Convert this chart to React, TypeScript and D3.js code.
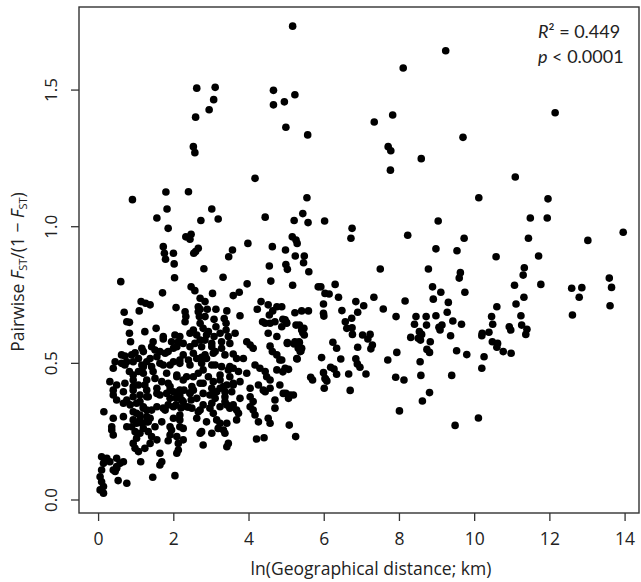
import React from 'react';
import * as d3 from 'd3';

// ln(geographical distance; km), pairwise Fst/(1 - Fst)
const upperPoints: [number, number][] = [
  [5.16,1.734],[2.61,1.507],[3.10,1.510],[3.06,1.465],[2.94,1.428],[2.58,1.401],[4.65,1.499],[5.22,1.483],
  [4.94,1.457],[4.65,1.446],[4.98,1.364],[5.56,1.336],[2.52,1.293],[2.56,1.271],[4.16,1.177],[0.90,1.099],
  [1.79,1.127],[2.39,1.128],[5.54,1.106],[1.82,1.065],[3.01,1.065],[1.55,1.032],[2.72,1.023],[3.18,1.028],
  [4.43,1.035],[5.43,1.048],[5.20,1.023],[5.57,1.015],[1.85,0.994],[2.32,0.963],[2.46,0.972],[2.43,0.954],
  [3.97,0.939],[5.15,0.963],[5.25,0.951],[5.28,0.939],[1.72,0.927],[1.75,0.903],[1.99,0.903],[1.78,0.881],
  [2.01,0.864],[2.58,0.909],[2.65,0.921],[2.53,0.903],[3.56,0.915],[3.46,0.890],[4.62,0.927],[4.97,0.915],
  [5.23,0.893],[5.47,0.893],[5.45,0.868],[4.98,0.862],[5.02,0.844],[4.54,0.856],[2.80,0.846],[5.59,0.835],
  [2.02,0.813],[3.31,0.815],[0.59,0.799],[3.95,0.791],[4.58,0.801],[5.16,0.786],[2.46,0.780],[5.84,0.780],
];

const farUpperPoints: [number, number][] = [
  [9.23,1.644],[8.10,1.581],[12.14,1.417],[7.82,1.409],[7.33,1.383],[9.69,1.327],[7.70,1.293],[7.77,1.278],
  [8.58,1.249],[7.76,1.207],[11.08,1.182],[10.11,1.106],[11.95,1.102],[6.01,1.021],[6.74,0.994],[6.71,0.958],
  [9.03,1.021],[8.22,0.969],[11.48,1.032],[11.93,1.032],[9.72,0.958],[11.43,0.958],[13.95,0.980],[13.01,0.950],
  [8.97,0.919],[9.53,0.912],[10.57,0.890],[11.70,0.893],[7.49,0.845],[8.77,0.845],[11.32,0.850],[9.62,0.832],
  [11.29,0.823],[9.59,0.812],[13.58,0.812],[6.29,0.789],[8.88,0.780],[11.06,0.786],[11.76,0.789],[12.58,0.775],
  [12.85,0.777],[13.64,0.778],[5.91,0.780],
];

const farPoints: [number, number][] = [
  [6.38,0.742],[6.84,0.726],[7.05,0.711],[7.32,0.742],[7.57,0.699],[8.15,0.728],[5.98,0.717],[5.98,0.683],
  [6.47,0.693],[6.89,0.687],[6.56,0.652],[6.73,0.665],[6.60,0.628],[6.74,0.630],[6.75,0.606],[7.02,0.604],
  [7.22,0.606],[7.16,0.589],[7.28,0.567],[7.24,0.553],[6.89,0.559],[6.23,0.577],[6.33,0.555],[5.93,0.521],
  [6.44,0.516],[6.84,0.517],[6.88,0.498],[6.95,0.486],[6.17,0.486],[6.26,0.479],[6.33,0.460],[5.98,0.466],
  [6.04,0.442],[6.65,0.461],[7.11,0.461],[6.00,0.409],[6.69,0.401],[7.91,0.671],[7.93,0.540],[7.69,0.512],
  [7.90,0.449],[8.12,0.439],[8.00,0.326],[8.44,0.671],[8.40,0.643],[8.71,0.671],[8.97,0.674],[8.90,0.735],
  [9.10,0.760],[9.30,0.723],[9.27,0.687],[8.72,0.640],[8.53,0.616],[8.59,0.606],[8.30,0.595],[8.50,0.592],
  [8.56,0.585],[9.05,0.632],[9.13,0.640],[9.08,0.622],[9.42,0.655],[9.65,0.643],[9.36,0.601],[8.82,0.579],
  [8.73,0.551],[8.80,0.540],[8.55,0.506],[8.57,0.456],[8.80,0.393],[8.61,0.362],[9.39,0.456],[9.52,0.546],
  [9.79,0.532],[9.48,0.273],[10.10,0.300],[9.74,0.760],[10.59,0.707],[10.45,0.671],[10.48,0.643],[10.20,0.610],
  [10.19,0.601],[10.38,0.614],[10.47,0.579],[10.61,0.573],[10.59,0.559],[10.76,0.543],[10.97,0.537],[10.25,0.524],
  [10.19,0.482],[11.10,0.717],[11.31,0.742],[11.23,0.674],[11.25,0.640],[11.39,0.625],[11.36,0.606],[10.92,0.634],
  [10.96,0.622],[12.60,0.677],[12.78,0.742],[13.60,0.711],
];

const midPoints: [number, number][] = [
  [6.02,0.756],[6.13,0.754],[5.99,0.673],[4.87,0.707],[5.22,0.685],[5.40,0.692],[5.58,0.692],[4.96,0.659],
  [5.00,0.649],[5.25,0.640],[5.46,0.628],[5.43,0.612],[5.02,0.576],[5.22,0.579],[5.34,0.576],[5.40,0.555],
  [5.38,0.545],[4.87,0.512],[5.28,0.516],[5.05,0.478],[4.90,0.469],[5.64,0.449],[5.69,0.439],[6.02,0.445],
  [6.07,0.435],[4.98,0.390],[5.18,0.384],
  [3.03,0.756],[3.58,0.748],[3.74,0.760],[2.70,0.698],[2.89,0.698],[3.12,0.698],[3.41,0.692],[3.76,0.674],
  [4.32,0.726],[4.22,0.698],[4.51,0.714],[4.63,0.692],[2.83,0.671],[3.07,0.661],[3.34,0.664],[3.39,0.647],
  [4.36,0.652],[4.54,0.677],[4.56,0.647],[4.69,0.652],[4.90,0.661],[5.00,0.647],[5.34,0.640],[5.40,0.622],
  [2.70,0.647],[2.78,0.628],[2.92,0.616],[3.12,0.634],[3.07,0.598],[3.23,0.610],[3.39,0.622],[3.45,0.598],
  [4.51,0.610],[4.74,0.598],[5.47,0.604],[2.83,0.585],[3.01,0.561],[2.74,0.561],[3.94,0.579],[4.03,0.567],
  [4.11,0.555],[4.56,0.563],[4.62,0.543],[5.02,0.573],[5.20,0.571],[5.33,0.579],[5.31,0.555],[5.36,0.543],
  [3.27,0.555],[3.36,0.531],[3.58,0.534],[3.67,0.518],[3.85,0.518],[3.05,0.537],[2.87,0.518],[2.74,0.522],
  [4.74,0.531],[4.82,0.512],[5.27,0.518],[3.10,0.494],[3.27,0.488],[3.45,0.476],[3.58,0.482],[3.72,0.470],
  [3.94,0.464],[4.16,0.494],[4.29,0.482],[4.43,0.470],[4.47,0.451],[4.56,0.439],[4.74,0.476],[4.96,0.482],
  [2.78,0.476],[2.92,0.451],[3.05,0.433],[2.78,0.427],[3.23,0.439],[3.41,0.421],[3.58,0.427],[3.76,0.433],
  [4.03,0.409],[4.25,0.421],[4.38,0.402],[4.56,0.409],[4.82,0.421],[3.23,0.409],[3.05,0.396],[3.54,0.396],
  [2.70,0.738],[2.83,0.726],[4.74,0.707],[4.43,0.647],[4.87,0.634],
];

const nearPoints: [number, number][] = [
  [1.70,0.758],[2.56,0.766],[1.13,0.726],[1.25,0.720],[1.37,0.714],[0.68,0.687],[1.08,0.692],[2.06,0.704],
  [2.30,0.689],[2.32,0.671],[2.30,0.652],[2.65,0.707],[2.65,0.689],[2.68,0.671],[0.82,0.650],[1.53,0.628],
  [0.82,0.610],[0.85,0.579],[1.72,0.589],[2.16,0.598],[2.12,0.579],[2.08,0.561],[2.52,0.622],[2.61,0.604],
  [2.70,0.585],[2.56,0.573],[2.43,0.561],[1.15,0.555],[1.41,0.561],[1.63,0.543],[1.85,0.543],[1.99,0.555],
  [0.61,0.531],[0.88,0.531],[1.06,0.518],[1.37,0.518],[1.55,0.524],[0.44,0.506],[0.39,0.482],[0.70,0.494],
  [0.92,0.506],[1.15,0.494],[1.41,0.488],[1.72,0.494],[1.99,0.506],[2.16,0.512],[2.39,0.512],[2.61,0.518],
  [0.30,0.433],[0.48,0.421],[0.70,0.427],[0.92,0.439],[1.06,0.421],[1.28,0.439],[1.50,0.445],[1.68,0.433],
  [1.85,0.427],[2.08,0.451],[2.25,0.439],[2.52,0.451],[2.70,0.427],[0.39,0.402],[0.66,0.396],[0.92,0.402],
  [1.28,0.402],[1.55,0.409],[1.90,0.402],[2.16,0.402],[2.52,0.402],[0.75,0.652],
  [0.70,0.527],[0.61,0.500],[0.75,0.506],[0.97,0.539],[0.82,0.470],[0.92,0.457],[1.06,0.470],[1.19,0.488],
  [0.92,0.415],[0.39,0.384],[0.48,0.366],[0.75,0.366],[0.92,0.378],[1.10,0.360],[1.28,0.378],[0.14,0.323],
  [0.39,0.299],[0.66,0.305],[0.92,0.323],[1.10,0.311],[1.28,0.329],[0.35,0.268],[0.75,0.268],[1.01,0.281],
  [1.28,0.286],
];

const densePoints: [number, number][] = [
  [1.23,0.616],[1.72,0.598],[2.03,0.604],[2.43,0.610],[2.87,0.604],[3.63,0.610],[1.45,0.579],[1.94,0.579],
  [2.25,0.573],[3.01,0.573],[3.27,0.579],[3.49,0.573],[1.19,0.543],[1.50,0.549],[1.77,0.537],[2.25,0.531],
  [2.52,0.537],[2.83,0.531],[3.10,0.543],[1.28,0.506],[1.63,0.500],[1.90,0.494],[2.16,0.500],[2.43,0.494],
  [2.74,0.500],[3.01,0.494],[3.49,0.488],[1.19,0.464],[1.45,0.470],[1.81,0.464],[2.08,0.457],[2.34,0.451],
  [2.65,0.464],[3.23,0.457],[3.49,0.451],[1.23,0.421],[1.90,0.415],[2.48,0.415],[3.01,0.409],[3.32,0.415],
  [3.58,0.421],[1.32,0.378],[1.63,0.384],[1.90,0.372],[3.10,0.372],[3.36,0.378],[1.19,0.341],[1.77,0.329],
  [1.99,0.341],[2.48,0.336],[2.70,0.329],[2.96,0.336],[3.23,0.341],[3.49,0.336],[1.37,0.299],[1.99,0.299],
  [2.61,0.299],[3.41,0.281],
  [2.06,0.373],[2.11,0.395],[2.27,0.402],[2.43,0.392],[2.46,0.366],[2.38,0.340],[2.19,0.337],[2.06,0.348],
];

const lowPoints: [number, number][] = [
  [1.10,0.384],[1.55,0.390],[1.81,0.390],[1.99,0.396],[2.16,0.384],[2.43,0.390],[2.61,0.372],[0.35,0.256],
  [0.39,0.238],[0.66,0.354],[0.84,0.348],[1.01,0.354],[1.19,0.336],[1.01,0.317],[0.92,0.293],[1.10,0.293],
  [1.28,0.305],[1.41,0.329],[1.55,0.341],[1.72,0.336],[1.85,0.348],[0.88,0.268],[0.97,0.250],[1.01,0.226],
  [1.10,0.244],[1.19,0.262],[1.32,0.250],[1.41,0.232],[1.55,0.220],[0.92,0.207],[0.97,0.189],[1.06,0.177],
  [1.23,0.189],[1.37,0.207],[1.15,0.281],[1.32,0.286],[1.50,0.268],[1.68,0.286],[1.63,0.171],[1.68,0.140],
  [1.63,0.128],[1.85,0.217],[1.90,0.238],[2.08,0.232],[2.12,0.207],[2.12,0.183],[2.25,0.220],[1.90,0.268],
  [1.94,0.256],[2.16,0.268],[2.25,0.262],[2.16,0.293],[2.16,0.311],[2.25,0.360],[2.34,0.341],[2.21,0.366],
  [2.65,0.323],[2.70,0.244],[0.08,0.158],[0.17,0.146],[0.30,0.140],[0.48,0.153],[0.57,0.134],[0.66,0.140],
  [0.39,0.110],[0.48,0.116],[0.08,0.110],[0.04,0.085],[0.08,0.067],[0.13,0.049],[0.13,0.025],[0.52,0.071],
  [0.75,0.061],[1.12,0.140],[1.44,0.083],[2.03,0.089],[0.13,0.134],[0.44,0.104],[0.04,0.037],[0.22,0.153],
  [0.48,0.122],[2.08,0.171],
  [2.78,0.390],[2.96,0.384],[3.14,0.396],[3.36,0.396],[3.76,0.372],[4.03,0.378],[4.11,0.360],[4.43,0.396],
  [4.91,0.390],[5.09,0.384],[5.05,0.372],[2.78,0.348],[3.01,0.354],[3.36,0.360],[3.41,0.348],[3.58,0.348],
  [3.67,0.329],[3.72,0.317],[4.03,0.341],[4.11,0.329],[4.16,0.311],[4.69,0.366],[4.69,0.336],[3.05,0.317],
  [2.87,0.286],[3.14,0.293],[3.23,0.281],[3.18,0.262],[3.67,0.293],[4.25,0.286],[4.51,0.299],[4.56,0.281],
  [2.74,0.250],[3.01,0.244],[3.32,0.256],[3.36,0.244],[5.07,0.274],[5.24,0.232],[4.20,0.223],[4.40,0.228],
  [2.78,0.201],[3.45,0.207],[3.41,0.195],
];

const points = [...upperPoints, ...farUpperPoints, ...farPoints, ...midPoints, ...nearPoints, ...densePoints, ...lowPoints];

const xTicks = [0, 2, 4, 6, 8, 10, 12, 14];
const yTicks = [0, 0.5, 1.0, 1.5];

const W = 641;
const H = 582;
const plot = { left: 79, right: 639, top: 7, bottom: 513 };
const axisFont = "'Open Sans', 'DejaVu Sans', sans-serif";

export default function App() {
  const x = d3.scaleLinear().domain([-0.521, 14.37]).range([plot.left, plot.right]);
  const y = d3.scaleLinear().domain([-0.0476, 1.804]).range([plot.bottom, plot.top]);
  const ink = '#222';

  return (
    <svg width={W} height={H} style={{ position: 'absolute', left: 0, top: 0, background: '#fff' }}>
      <rect x={0} y={0} width={W} height={H} fill="#fff" />

      {points.map((d, i) => (
        <circle key={i} cx={x(d[0])} cy={y(d[1])} r={3.8} fill="#000" />
      ))}

      <rect x={plot.left} y={plot.top} width={plot.right - plot.left} height={plot.bottom - plot.top}
        fill="none" stroke="#333" strokeWidth={1.4} />

      {/* x axis */}
      <g>
        {xTicks.map(t => (
          <g key={t} transform={`translate(${x(t)},${plot.bottom})`}>
            <line y2={8} stroke="#333" strokeWidth={1.3} />
            <text y={32} textAnchor="middle" fontFamily={axisFont} fontSize={17.5} fill={ink}>{t}</text>
          </g>
        ))}
        <text x={371} y={575} textAnchor="middle" fontFamily={axisFont} fontSize={17.5} fill={ink}>
          ln(Geographical distance; km)
        </text>
      </g>

      {/* y axis */}
      <g>
        {yTicks.map(t => (
          <g key={t} transform={`translate(${plot.left},${y(t)})`}>
            <line x2={-8} stroke="#333" strokeWidth={1.3} />
            <text transform="translate(-22,0) rotate(-90)" textAnchor="middle" fontFamily={axisFont} fontSize={17} fill={ink}>
              {d3.format('.1f')(t)}
            </text>
          </g>
        ))}
        <text transform="translate(24,272) rotate(-90)" textAnchor="middle" fontFamily={axisFont} fontSize={17.5} fill={ink}>
          Pairwise <tspan fontStyle="italic">F</tspan>
          <tspan fontSize={11} dy={3}>ST</tspan>
          <tspan dy={-3}>/(1 − </tspan>
          <tspan fontStyle="italic">F</tspan>
          <tspan fontSize={11} dy={3}>ST</tspan>
          <tspan dy={-3}>)</tspan>
        </text>
      </g>

      {/* fit statistics */}
      <g fontFamily="Lato, 'Open Sans', sans-serif" fontSize={18} fill={ink}>
        <text x={538} y={38}>
          <tspan fontStyle="italic">R</tspan>² = 0.449
        </text>
        <text x={538} y={63}>
          <tspan fontStyle="italic">p</tspan> &lt; 0.0001
        </text>
      </g>
    </svg>
  );
}
